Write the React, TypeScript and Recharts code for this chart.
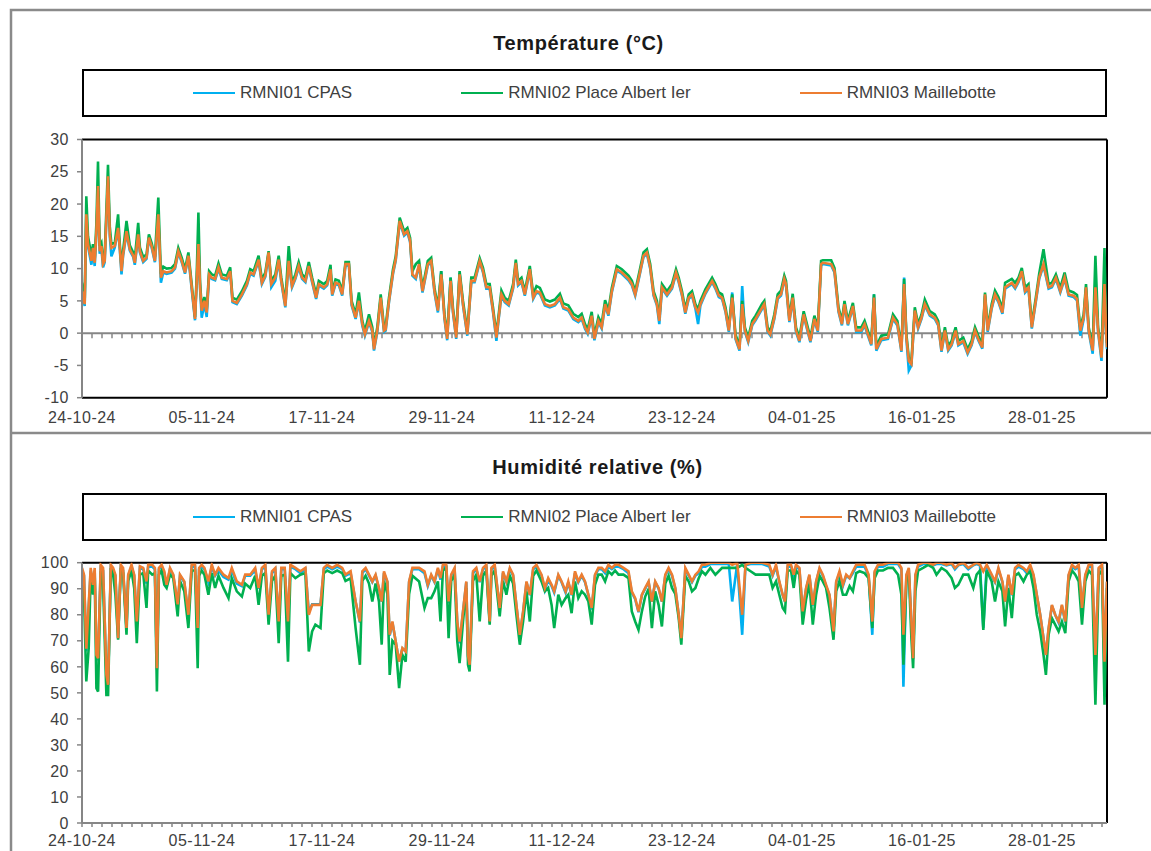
import React from 'react';
import { LineChart, Line, XAxis, YAxis, ReferenceLine } from 'recharts';

const FONT = '"Liberation Sans", Arial, Helvetica, sans-serif';
const C_BLUE = '#00B0F0';
const C_GREEN = '#00B050';
const C_ORANGE = '#ED7D31';
const AXIS_GRAY = '#868686';
const TEXT_GRAY = '#404040';

const seriesNames = ['RMNI01 CPAS', 'RMNI02 Place Albert Ier', 'RMNI03 Maillebotte'];
const seriesColors = [C_BLUE, C_GREEN, C_ORANGE];
const dateLabels = ['24-10-24', '05-11-24', '17-11-24', '29-11-24', '11-12-24', '23-12-24', '04-01-25', '16-01-25', '28-01-25'];
const LABEL_EVERY = 12;
const X_MAX = 102.5;
const dayTicks = Array.from({ length: 103 }, (_, i) => i);
const tempYTicks = [-10, -5, 0, 5, 10, 15, 20, 25, 30];
const humYTicks = [0, 10, 20, 30, 40, 50, 60, 70, 80, 90, 100];

// ---------- Temperature (°C) ----------
const tempDays = [0,0.27,0.43,0.6,0.94,1.1,1.27,1.44,1.6,1.77,1.94,2.1,2.27,2.6,2.78,2.94,3.28,3.61,3.78,3.95,4.11,4.45,4.78,5.12,5.28,5.62,5.79,6.12,6.45,6.69,6.96,7.29,7.63,7.89,8.13,8.46,8.96,9.3,9.63,9.97,10.3,10.64,10.97,11.3,11.47,11.64,11.81,11.97,12.24,12.47,12.71,12.98,13.31,13.65,13.98,14.48,14.82,15.05,15.48,15.99,16.49,16.82,17.16,17.66,17.99,18.33,18.66,18.93,19.33,19.67,19.93,20.33,20.67,21.0,21.34,21.67,22.01,22.34,22.68,23.01,23.41,23.68,24.18,24.52,24.85,25.02,25.35,25.69,26.02,26.35,26.69,26.96,27.36,27.69,28.03,28.29,28.7,29.03,29.2,29.53,29.87,30.2,30.37,30.7,31.1,31.37,31.77,32.21,32.54,32.81,33.04,33.38,33.71,34.05,34.58,34.92,35.25,35.59,35.92,36.25,36.52,36.86,37.09,37.42,37.76,38.1,38.53,38.93,39.26,39.77,40.1,40.43,40.77,41.1,41.44,41.67,41.94,42.27,42.67,43.11,43.38,43.61,43.95,44.28,44.78,45.12,45.45,45.79,46.29,46.79,47.29,47.79,48.13,48.63,49.13,49.63,49.97,50.3,50.57,50.97,51.24,51.64,51.97,52.31,52.64,52.98,53.48,53.98,54.65,54.99,55.32,55.82,56.15,56.49,56.82,57.16,57.49,57.73,58.0,58.5,59.0,59.4,59.67,60.0,60.33,60.67,61.0,61.34,61.61,61.84,62.34,63.01,63.34,63.68,64.01,64.35,64.68,65.02,65.35,65.75,66.02,66.29,66.62,67.02,67.36,68.03,68.23,68.56,68.83,69.23,69.57,69.9,70.23,70.4,70.74,71.07,71.4,71.74,72.17,72.41,72.84,73.24,73.58,73.91,74.08,74.92,75.25,75.65,75.99,76.25,76.59,77.09,77.42,77.93,78.26,78.6,78.93,79.2,79.43,79.93,80.6,81.1,81.54,81.94,82.21,82.44,82.68,82.94,83.28,83.61,83.95,84.28,84.78,85.28,85.62,85.95,86.29,86.62,86.96,87.36,87.63,88.13,88.56,88.96,89.3,89.63,90.03,90.3,90.57,90.97,91.3,91.64,92.04,92.31,92.98,93.31,93.65,93.98,94.31,94.65,94.98,95.38,95.72,96.15,96.66,96.99,97.39,97.83,98.26,98.66,99.16,99.5,99.83,100.17,100.4,100.67,101.07,101.34,101.61,101.95,102.25,102.4,102.5];
const tempRMNI03 = [6.5,4.5,18.4,13.8,11.2,13.2,10.9,15.8,22.8,12.7,13.5,10.7,11.2,24.3,15.3,13.2,13.5,16.3,13.2,9.6,12.2,15.8,13,12,10.9,15.3,12.7,11.2,11.7,14.8,13.5,11.2,18.4,8.6,9.6,9.4,9.6,10.2,12.7,11.2,9.4,12,7.1,2.2,8.1,13.8,7.1,3.5,5,3.2,9.1,8.6,8.4,10.2,8.6,8.4,9.6,5,4.7,6,7.6,9.4,9.1,11.4,7.8,8.9,12.5,7.6,8.6,11.4,8.1,4.2,11.2,7.3,8.6,10.4,8.6,8.1,10.4,8.1,5.5,7.6,7.1,7.6,9.9,6,7.8,7.6,6,10.7,10.7,4.5,2.4,5,1.4,-0.2,1.9,0.4,-2.5,0.4,5.5,0.4,0.6,5,9.4,11.4,17.4,15.3,15.8,14.3,9.1,8.6,10.7,6.5,10.7,11.2,6.5,3.5,9.1,2.4,-0.9,8.1,3.5,-0.7,9.1,4.5,-0.2,8.1,8.1,11.2,9.6,7.1,7.1,3.5,-0.7,2.4,6,5,4.5,7.1,10.9,7.6,8.1,6,9.9,5.5,6.5,6.3,4.5,4.2,4.5,5.5,4,3.7,2.4,1.9,2.4,0.9,0.1,2.7,-0.9,1.9,0.9,4.5,2.9,6.5,9.9,9.4,8.4,7.6,6,9.6,12,12.5,10.2,6,4.5,1.9,7.1,6,7.1,9.4,8.1,6,3.2,5.5,6,4,3.2,4.5,6.3,8.1,7.1,5.8,5.5,3.5,0.4,5.5,-0.7,-2.5,4.5,0.4,-1.2,1.4,2.2,4,4.5,0.4,-0.2,2.4,5.5,6,8.4,7.6,1.9,5.5,0.4,-1.2,2.9,1.4,-1.2,2.2,0.4,10.7,10.9,10.7,9.6,3.5,1.4,4.5,1.4,4.2,0.4,0.4,1.4,-0.2,-1.7,5.5,-2.5,-0.9,-0.7,2.4,1.4,-2.7,7.6,-0.7,-4.3,-4.8,3.5,0.9,2.4,4.5,2.9,2.4,1.4,-2.7,0.4,-2.5,-1.7,0.4,-1.7,-1.2,-3,-1.7,0.4,-0.9,-2.2,6,0.4,4,6,5,3.2,7.1,7.8,7.1,8.1,9.6,6.5,7.1,0.9,5,8.6,10.7,7.1,7.3,8.6,6.5,8.6,6,5.8,5.3,0.4,2.4,7.1,0.4,-2.7,7.1,0.4,-3.8,7.6,0.4,-2.2];
const tempRMNI02 = [7.8,5,21.2,15,12,13.8,11.5,17,26.6,13.5,14,11.3,12,26.1,16.5,13.8,14,18.4,13.8,10.3,12.8,17.4,13.6,12.5,11.5,17.1,13.3,11.8,12.2,15.3,14,11.8,21,9.2,10.3,10,10.1,10.7,13.2,11.7,9.9,12.5,7.6,2.5,9,18.7,7.8,4,5.6,3.6,9.6,9.1,8.9,10.8,9.1,8.9,10.2,5.5,5.2,6.5,8.1,9.9,9.6,12,8.3,9.4,12.7,8.1,9.1,12,8.6,4.7,13.5,7.8,9.1,11,9.1,8.6,11,8.6,6,8.1,7.6,8.1,10.6,6.5,8.3,8.1,6.5,11,11,5,2.9,6.3,1.9,0.3,2.9,0.9,-2,0.9,6,0.9,1.1,5.5,9.9,11.9,17.9,15.8,16.3,14.8,9.6,10.7,11.2,7,11.2,11.7,7,4,9.6,2.9,-0.4,8.6,4,-0.2,9.6,5,0.3,8.6,8.6,11.6,10.1,7.6,7.6,4,-0.2,2.9,6.6,5.5,5,7.6,11.4,8.1,8.6,6.5,10.4,6,7.3,7,5.2,4.9,5.2,6.1,4.6,4.3,3,2.5,3,1.4,0.6,3.3,-0.4,2.5,1.5,5.1,3.5,7,10.4,9.9,8.9,8.1,6.5,10.1,12.5,13,10.7,6.5,5,2.4,7.6,6.5,7.6,9.9,8.6,6.5,3.7,6,6.5,4.5,3.7,5,6.8,8.6,7.6,6.3,6,4,0.9,6,-0.2,-2,5,0.9,-0.7,1.9,2.7,4.6,5,0.9,0.3,2.9,6,6.6,8.9,8.1,2.4,6.1,0.9,-0.7,3.4,1.9,-0.7,2.7,0.9,11.2,11.3,11.3,10.1,4,1.9,5,1.9,4.7,0.9,0.9,1.9,0.3,-1.2,6,-2,-0.4,-0.2,2.9,1.9,-2.2,8.4,-0.2,-3.8,-4.3,4,1.4,2.9,5.2,3.4,2.9,1.9,-2.2,0.9,-2,-1.2,0.9,-1.2,-0.7,-2.5,-1.2,0.9,-0.4,-1.7,6.3,0.9,4.5,6.6,5.6,3.8,7.8,8.4,7.8,8.6,10.1,7.1,7.6,1.4,5.5,9.2,13,7.6,7.8,9.1,7,9.4,6.6,6.3,5.9,0.9,2.9,7.6,0.9,-2.2,12,0.9,-3.3,13.2,0.9,-1.5];
const tempRMNI01 = [6.3,4.2,17.8,13.5,10.6,13,10.4,15.5,22,12.3,13.2,10.2,11,23.8,15,11.9,13.3,16,13,9.1,12,15.5,12.8,11.8,10.6,15,12.5,11,11.5,14.6,13.3,11,18,7.8,9.4,9.2,9.4,10,12.5,11,9.2,11.8,6.8,2,7.8,13.5,6.8,2.4,4.6,2.5,8.9,8.4,8.2,10,8.4,8.2,9.4,4.8,4.5,5.8,7.4,9.2,8.9,11.2,7.6,8.7,12.3,7.1,8.1,11.2,7.9,4,11,7.1,8.4,10.2,8.4,7.9,10.2,7.9,5.3,7.4,6.9,7.4,9.7,5.8,7.6,7.4,5.8,10.5,10.5,4.3,2.2,4.8,1.2,-0.4,1.7,0.2,-2.7,0.2,5.3,0.2,0.4,4.8,9.2,11.2,17.2,15.1,15.6,14.1,8.9,8.4,10.5,6.3,10.5,11,6.3,3.2,9.6,2.2,-1.1,8.6,3.3,-0.9,9.3,4.3,-0.4,7.9,7.9,11,9.4,6.9,6.9,3.3,-1.2,2.2,5.8,4.8,4.3,6.9,10.7,7.4,7.9,5.8,9.7,5.3,6.3,6.1,4.3,4,4.3,5.3,3.8,3.5,2.2,1.7,2.2,0.7,-0.1,2.5,-1.1,1.7,0.7,4.3,2.7,6.3,9.7,9.2,8.2,7.4,5.8,9.4,11.8,12.3,10,5.8,4.3,1.4,6.9,5.8,6.9,9.2,7.9,5.8,3,5.3,5.8,3.8,1.4,4.3,6.1,7.9,6.9,5.6,5.3,3.3,0.2,6.3,-0.9,-2.7,7.3,0.2,-1.4,1.2,2,3.8,4.3,0.2,-0.4,2.2,5.3,5.8,8.2,7.4,1.7,5.3,0.2,-1.4,2.7,1.2,-1.4,2,0.2,10.5,10.7,10.5,9.4,3.3,1.2,4.3,1.2,4,0.2,0.2,1.2,-0.4,-1.9,6,-2.7,-1.1,-0.9,2.2,1.2,-2.9,8.6,-0.9,-5.8,-5,3.3,0.7,2.2,4.3,2.7,2.2,1.2,-2.9,0.2,-2.7,-1.9,0.2,-1.9,-1.4,-3.2,-1.9,0.2,-1.1,-2.4,5.8,0.2,3.8,5.8,4.8,3,6.9,7.6,6.9,7.9,9.4,6.3,6.9,0.7,4.8,8.4,10.5,6.9,7.1,8.4,6.3,8.4,5.8,5.6,5.1,-0.4,2.2,6.9,0.2,-3.2,8,0.2,-4.3,8,0.2,-2.5];

// ---------- Humidité relative (%) ----------
const humDays = [0,0.2,0.43,0.67,0.87,1.1,1.27,1.44,1.61,1.87,2.11,2.44,2.61,2.88,3.11,3.34,3.61,3.88,4.11,4.45,4.62,4.95,5.22,5.48,5.79,6.12,6.45,6.62,7.02,7.29,7.49,7.69,7.96,8.23,8.46,8.8,9.13,9.57,9.8,10.23,10.64,10.97,11.3,11.57,11.71,11.97,12.24,12.64,12.98,13.31,13.65,14.15,14.65,14.98,15.48,15.99,16.32,16.82,17.32,17.66,17.99,18.33,18.66,19.0,19.33,19.67,19.93,20.27,20.6,20.84,21.34,21.84,22.34,22.68,23.01,23.34,23.85,24.18,24.52,25.02,25.52,26.02,26.35,26.86,27.36,27.79,28.03,28.36,28.7,29.03,29.36,29.7,29.97,30.2,30.54,30.77,31.04,31.37,31.71,32.04,32.37,32.71,33.04,33.71,34.25,34.58,34.92,35.25,35.59,35.85,36.09,36.42,36.66,36.92,37.26,37.53,37.76,38.1,38.43,38.6,38.76,39.1,39.43,39.77,40.1,40.43,40.77,40.94,41.27,41.77,42.1,42.44,42.78,43.11,43.44,43.78,44.11,44.45,44.78,45.12,45.45,45.95,46.29,46.62,46.96,47.22,47.63,47.96,48.36,48.63,48.96,49.3,49.63,49.97,50.3,50.64,50.97,51.3,51.64,51.97,52.31,52.64,52.98,53.31,53.65,54.15,54.65,54.98,55.32,55.65,55.99,56.32,56.66,56.99,57.32,57.66,57.99,58.33,58.66,59.0,59.33,59.67,59.93,60.33,60.67,61.0,61.34,61.67,62.0,62.34,62.84,63.34,64.01,64.68,65.02,65.52,66.02,66.35,66.86,67.36,68.03,68.73,69.06,69.4,69.73,70.07,70.3,70.57,70.9,71.17,71.4,71.74,72.07,72.41,72.74,73.08,73.41,73.75,74.08,74.41,74.75,75.15,75.42,75.75,76.09,76.42,76.76,77.09,77.42,77.76,78.26,78.66,79.03,79.26,79.6,80.1,80.6,81.1,81.61,81.94,82.14,82.44,82.68,82.94,83.11,83.34,83.61,84.11,84.62,85.12,85.45,85.95,86.45,86.96,87.29,87.63,88.13,88.63,89.13,89.46,89.8,90.13,90.47,90.97,91.3,91.64,92.04,92.31,92.64,92.98,93.31,93.65,94.15,94.48,94.82,95.15,95.48,95.82,96.15,96.39,96.66,96.99,97.32,97.66,97.99,98.33,98.66,99.0,99.33,99.67,100.0,100.33,100.67,101.0,101.34,101.67,102.0,102.25,102.5];
const humRMNI03 = [98,95.4,67,84,98,91.5,98,64.6,63.3,99.2,98,57,53.1,99.2,98,95.4,71,99.2,98,74.9,95.4,99.2,95.4,77.4,98.6,98,92.8,99.2,99.2,98,59.5,98,99.2,96.7,91.5,98,95.4,84,95.4,92.8,80,99.2,99.2,74.9,98,99.2,98,92.8,99.2,95.4,98,95.4,94.1,98,92.8,91.5,95.4,95.4,98,90.3,98,99.2,80,96.7,98,77.4,98,98,77.4,99.2,98,96.7,98,80,83.8,83.8,83.8,98,99.2,98,99.2,98,95.4,96.7,85.1,77.4,96.7,98,95.4,92.8,95.4,90.3,85.1,96.7,92.8,72.3,77.4,69.7,62,67.2,65.9,92.8,98,98,96.7,91.5,95.4,92.8,98,94.1,99.2,99.2,85.1,95.4,98,77.4,69.7,81.3,92.8,64.6,60.8,96.7,98,92.8,98,99.2,77.4,98,99.2,82.6,96.7,92.8,98,95.4,83.8,72.3,81.3,92.8,87.7,98,99.2,95.4,90.3,94.1,91.5,89,95.4,92.8,89,92.8,87.7,96.7,92.8,95.4,92.8,87.7,82.6,95.4,98,98,96.7,99.2,98,99.2,99.2,98,96.7,89,86.4,81.3,87.7,90.3,92.8,85.1,92.8,90.3,85.1,95.4,98,95.4,90.3,80,71,98,95.4,92.8,95.4,96.7,99.2,99.2,100,100,100,100,99.2,100,80,99.2,100,100,100,99.2,95.4,99.2,92.8,87.7,85.1,99.2,99.2,95.4,99.2,98,81.3,90.3,95.4,83.8,92.8,98,95.4,91.5,87.7,73.6,92.8,96.7,91.5,95.4,94.1,96.7,99.2,99.2,99.2,95.4,77.4,96.7,99.2,99.2,100,100,100,98,72.3,95.4,98,77.4,63.3,95.4,99.2,100,100,99.2,100,100,99.2,100,98,99.2,100,98,99.2,100,99.2,96.7,99.2,95.4,92.8,98,92.8,85.1,95.4,87.7,98,99.2,98,96.7,99.2,95.4,87.7,80,71,64.6,74.9,83.8,80,77.4,83.8,77.4,95.4,99.2,98,99.2,82.6,95.4,99.2,99.2,64.6,98,99.2,62,92.8];
const humRMNI02 = [96.7,87.7,54.4,67.2,95.4,87.7,95,51.8,50.5,96.7,91.5,49.2,49.2,98,95.4,87.7,70.4,98,96,72.3,93,97,90.3,69.1,95.4,96,82.6,97,95.4,96,50.5,95.4,97,91.5,90.3,95.4,94.1,79.4,93,89,74.9,97,97,59.5,95,97,95.4,87.7,96,90.3,95,90.3,86.4,94,89,87,92,90.3,95,83.8,95,96,76.2,93,95,69.1,95,95.4,62,96,94.1,95.4,96,65.9,73.6,76.2,74.9,96,97,96,97,96,93,94,74.9,60.8,93,95,92,85.1,92,85,68.5,93,88,56.9,70,68.5,51.8,64.6,62,88,95,92.8,82.6,86.4,86.4,89,92.8,77.4,97,98,71,93,95.4,69.7,61.4,77.4,90.3,60.8,58.2,93,95.4,77.4,95,97,76.2,95,97,79.4,93,87.7,95,92,80,68.5,77.4,89,77.4,95,97,92.8,89,90.3,83.8,74.9,87.7,83.8,86.4,87.7,80.6,92.8,86.4,89,87.7,85.1,76.2,91.5,95.4,95.4,92.8,96.7,95.4,97,95.4,95.4,94.1,81.3,77.4,74.2,81.3,87,90,74.9,89,83.8,75.5,92,95,90.3,88,78.7,68.5,95,92.8,89,90.3,94,96.7,95.4,98,95.4,98,98,98,98,99.2,98,96.7,95.4,95.4,95.4,90.3,92.8,87.7,82.6,81.3,97,97,90.3,97,95.4,76.2,86,92,76.2,87.7,95,92.8,90.3,82.6,70.4,89,93,87.7,87.7,91,89,96,96.7,96,94.1,74.9,94,97,97,98,98,95.4,87.7,60.8,92.8,96,71,59.5,89,97,98,99.2,98,95.4,98,96.7,94.1,90.3,91.5,95.4,95.4,90.3,95.4,97,74.2,97,92.8,85.1,92.8,89,75.5,90.3,78.7,95,96,92.8,95.4,96.7,90.3,80,73.6,64.6,56.9,72.3,78.7,76.2,73.6,77.4,72.9,92.8,97,95.4,92.8,76.2,92.8,97,95.4,45.4,95.4,97,45.4,90.3];
const humRMNI01 = [97,95,66,83,97,91,97,64,63,98,97,57,53,98.5,97,95,71,98.5,97,74.5,95,98.5,95,77,98,97.5,92,98.5,98.5,97.5,59,97.5,98.5,96,91,97.5,95,83.5,95,92.5,79.5,98.5,98.5,74.5,97.5,98.5,97.5,92.5,98.5,95,97,94.5,93.5,97,92,91,95,95,97,90,97.5,98.5,80,96,97.5,77,97.5,97.5,77,98.5,97.5,96,97.5,81,84,84,84,97.5,98.5,97.5,98.5,97.5,95,96,85,77,96,97.5,95,92.5,95,90,85,96,92.5,72,77,69.7,62,67,65.9,92.5,97.5,97.5,96,91,95,92.5,97.5,93.5,98.5,98.5,84.5,95,97.5,77,69,81,92.5,64,60.5,96,97.5,92.5,97.5,98.5,77,97.5,98.5,82.5,96,92.5,97.5,95,83.5,72,81,92.5,87.5,97.5,98.5,95,89.5,93.5,91,88.5,95,92.5,88.5,92.5,87.5,96,92.5,95,92.5,87.5,82,95,97.5,97.5,96,98.5,97.5,98.5,98.5,97.5,96,88.5,86,81,87.5,90,92.5,85,92.5,90,85,95,97.5,95,90,80,71,97.5,95,92.5,95,96,98.5,98.5,99.5,99.5,99.5,99.5,85.1,99.5,72.3,99,99.5,99.5,99.5,98.5,95,98.5,92.5,87.5,85,98.5,98.5,95,98.5,97.5,81,90,95,83.5,92.5,97.5,95,91,87.5,73.5,92.5,96,91,95,94,96,98.5,98.5,98.5,95,72.3,96,98.5,98.5,99.5,99.5,99.5,97.5,52.4,95,97.5,77,63,95,98.5,99.5,99.5,99,99.5,99.5,99,99.5,97.5,99,99.5,97.5,99,99.5,99,74.9,99,95,92.5,97.5,92.5,85,95,87.5,97.5,98.5,97.5,96,98.5,95,87.5,80,71,64.5,74.5,83.5,80,77,83.5,77,95,98.5,97.5,98.5,82.5,95,98.5,98.5,64.5,97.5,98.5,62,92.5];

const tempData = tempDays.map((d, i) => ({ d, s1: tempRMNI01[i], s2: tempRMNI02[i], s3: tempRMNI03[i] }));
const humData = humDays.map((d, i) => ({ d, s1: humRMNI01[i], s2: humRMNI02[i], s3: humRMNI03[i] }));

const tickFont = { fontSize: 16, fill: TEXT_GRAY, fontFamily: FONT, letterSpacing: 0.5 };

const DateTick = (props: any) => {
  const { x, y, payload } = props;
  const v = payload && payload.value;
  if (v % LABEL_EVERY !== 0) return <g />;
  const label = dateLabels[v / LABEL_EVERY];
  return (
    <text x={x} y={y} dy="0.71em" textAnchor="middle" fontSize={16} fill={TEXT_GRAY} fontFamily={FONT} letterSpacing={0.5}>
      {label}
    </text>
  );
};

const ZeroAxis = (props: any) => {
  const { x1, x2, y1 } = props;
  const w = x2 - x1;
  return (
    <g>
      <line x1={x1} x2={x2} y1={y1} y2={y1} stroke={AXIS_GRAY} strokeWidth={2} />
      {dayTicks.map((d) => {
        const x = x1 + (d / X_MAX) * w;
        return <line key={d} x1={x} x2={x} y1={y1} y2={y1 + 5} stroke={AXIS_GRAY} strokeWidth={1.5} />;
      })}
    </g>
  );
};

const Legend = ({ top }: { top: number }) => (
  <div
    style={{
      position: 'absolute', left: 82, top, width: 1025, height: 47.5, boxSizing: 'border-box',
      border: '2px solid #000', display: 'flex', justifyContent: 'space-evenly', alignItems: 'center',
      fontFamily: FONT, fontSize: 17, color: TEXT_GRAY,
    }}
  >
    {seriesNames.map((n, i) => (
      <div key={n} style={{ display: 'flex', alignItems: 'center' }}>
        <span style={{ display: 'inline-block', width: 42, height: 2.5, background: seriesColors[i], marginRight: 5 }} />
        <span>{n}</span>
      </div>
    ))}
  </div>
);

const renderLines = () =>
  ['s1', 's2', 's3'].map((k, i) => (
    <Line key={k} type="linear" dataKey={k} name={seriesNames[i]} stroke={seriesColors[i]} strokeWidth={2.6}
      dot={false} activeDot={false} isAnimationActive={false} />
  ));

export default function App() {
  return (
    <div style={{ position: 'absolute', left: 0, top: 0, width: 1151, height: 851, background: '#fff', overflow: 'hidden' }}>
      <svg width={1151} height={851} style={{ position: 'absolute', left: 0, top: 0 }}>
        <rect x={11} y={10} width={1160} height={860} fill="none" stroke="#8a8a8a" strokeWidth={2.5} />
        <line x1={11} x2={1151} y1={433} y2={433} stroke="#8a8a8a" strokeWidth={2.5} />
        <text x={578.5} y={49.5} textAnchor="middle" fontFamily={FONT} fontWeight="bold" fontSize={20} letterSpacing={0.6} fill="#1a1a1a">
          Température (°C)
        </text>
        <text x={597.5} y={474} textAnchor="middle" fontFamily={FONT} fontWeight="bold" fontSize={20} letterSpacing={0.6} fill="#1a1a1a">
          Humidité relative (%)
        </text>
      </svg>

      <Legend top={69} />
      <Legend top={493.3} />

      <div style={{ position: 'absolute', left: 0, top: 120 }}>
        <LineChart width={1151} height={320} data={tempData} margin={{ top: 19.5, right: 44, bottom: 12.3, left: 22 }}>
          <XAxis type="number" dataKey="d" domain={[0, X_MAX]} ticks={dayTicks} interval={0} allowDataOverflow
            tick={<DateTick />} tickSize={5} tickMargin={9} axisLine={false} tickLine={false} height={30} />
          <YAxis type="number" domain={[-10, 30]} ticks={tempYTicks} interval={0} allowDataOverflow width={60}
            tick={tickFont} tickSize={5} tickMargin={8}
            axisLine={{ stroke: AXIS_GRAY, strokeWidth: 2 }} tickLine={{ stroke: AXIS_GRAY, strokeWidth: 1.5 }} />
          <ReferenceLine y={0} shape={ZeroAxis} zIndex={-1} />
          <ReferenceLine y={30} stroke="#000" strokeWidth={2} />
          <ReferenceLine y={-10} stroke="#000" strokeWidth={2} />
          <ReferenceLine x={X_MAX} stroke="#000" strokeWidth={2} />
          {renderLines()}
        </LineChart>
      </div>

      <div style={{ position: 'absolute', left: 0, top: 545 }}>
        <LineChart width={1151} height={306} data={humData} margin={{ top: 17.7, right: 44, bottom: 0, left: 22 }}>
          <XAxis type="number" dataKey="d" domain={[0, X_MAX]} ticks={dayTicks} interval={0} allowDataOverflow
            tick={<DateTick />} tickSize={4} tickMargin={8} height={28}
            axisLine={{ stroke: AXIS_GRAY, strokeWidth: 2 }} tickLine={{ stroke: AXIS_GRAY, strokeWidth: 1.5 }} />
          <YAxis type="number" domain={[0, 100]} ticks={humYTicks} interval={0} allowDataOverflow width={60}
            tick={tickFont} tickSize={5} tickMargin={8}
            axisLine={{ stroke: AXIS_GRAY, strokeWidth: 2 }} tickLine={{ stroke: AXIS_GRAY, strokeWidth: 1.5 }} />
          <ReferenceLine y={100} stroke="#000" strokeWidth={2} />
          <ReferenceLine x={X_MAX} stroke="#000" strokeWidth={2} />
          {renderLines()}
        </LineChart>
      </div>
    </div>
  );
}
